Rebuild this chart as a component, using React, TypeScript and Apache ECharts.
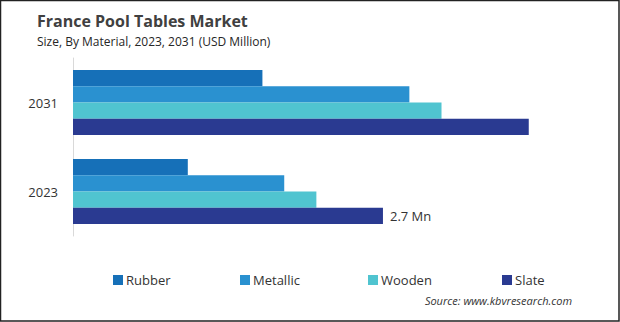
import React, { useEffect, useRef } from "react";
import * as echarts from "echarts";

const categories = ["2023", "2031"];
const seriesNames = ["Rubber", "Metallic", "Wooden", "Slate"];
const rubber = [1.0, 1.65];
const metallic = [1.84, 2.93];
const wooden = [2.12, 3.21];
const slate = [2.7, 3.97];
const colors = ["#1670b8", "#2a91d0", "#50c4d0", "#2a3a91"];
const legendLeft = [108, 235, 363, 497];

export default function App() {
  const ref = useRef<HTMLDivElement>(null);
  useEffect(() => {
    if (!ref.current) return;
    const chart = echarts.init(ref.current, null, { renderer: "svg" });
    const values = [rubber, metallic, wooden, slate];
    const font = "'Open Sans', 'Noto Sans', sans-serif";
    chart.setOption({
      animation: false,
      textStyle: { fontFamily: font },
      graphic: [
        {
          type: "rect",
          shape: { x: 0.5, y: 0.5, width: 618.5, height: 320.5 },
          style: { fill: "none", stroke: "#222", lineWidth: 1.5 },
          silent: true,
        },
        {
          type: "text",
          left: 37,
          top: 13,
          style: { text: "France Pool Tables Market", fontSize: 16, fontWeight: "bold", fill: "#404040", fontFamily: font },
        },
        {
          type: "text",
          left: 37,
          top: 35,
          style: { text: "Size, By Material, 2023, 2031 (USD Million)", fontSize: 12, fill: "#262626", fontFamily: font },
        },
        {
          type: "text",
          right: 48,
          top: 295,
          style: { text: "Source: www.kbvresearch.com", fontSize: 11, fontStyle: "italic", fill: "#333", fontFamily: font },
        },
      ],
      legend: seriesNames.map((n, i) => ({
        data: [n],
        left: legendLeft[i],
        top: 268.5,
        itemWidth: 10,
        itemHeight: 10,
        itemGap: 3,
        icon: "rect",
        textStyle: { fontSize: 13, color: "#333", fontFamily: font, padding: [0, 0, 0, -2] },
      })),
      grid: { left: 73, top: 58, width: 516.6, height: 178, containLabel: false },
      xAxis: {
        type: "value",
        min: 0,
        max: 4.5,
        show: false,
        splitLine: { show: false },
      },
      yAxis: {
        type: "category",
        data: categories,
        axisLine: { show: true, lineStyle: { color: "#d9d9d9", width: 1 } },
        axisTick: { show: false },
        axisLabel: { fontSize: 13, color: "#333", margin: 15, fontFamily: font },
      },
      series: seriesNames.map((n, i) => ({
        name: n,
        type: "bar",
        data: values[i].map((v, j) =>
          n === "Slate" && j === 0
            ? { value: v, label: { show: true, position: "right", distance: 7, formatter: "2.7 Mn", fontSize: 13, color: "#333", fontFamily: font } }
            : v
        ),
        itemStyle: { color: colors[i] },
        barGap: "0%",
        barCategoryGap: "27%",
      })),
    });
    return () => chart.dispose();
  }, []);
  return <div ref={ref} style={{ position: "fixed", left: 0, top: 0, width: 620, height: 322, background: "#fff" }} />;
}
